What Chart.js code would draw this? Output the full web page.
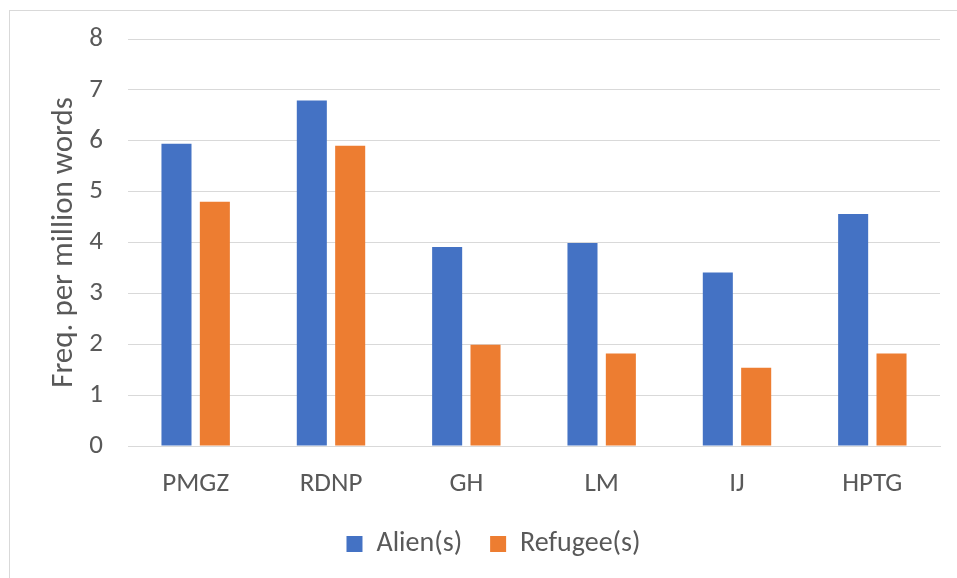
<!DOCTYPE html>
<html>
<head>
<meta charset="utf-8">
<script src="https://cdn.jsdelivr.net/npm/chart.js@4.4.0/dist/chart.umd.min.js"></script>
<style>
  html, body { margin: 0; padding: 0; background: #fff; overflow: hidden; width: 957px; height: 578px; }
  #frame { position: absolute; left: 9px; top: 10px; width: 1000px; height: 620px; border: 1px solid #d9d9d9; box-sizing: border-box; }
  #wrap { position: absolute; left: 0; top: 0; width: 957px; height: 578px; }
</style>
</head>
<body>
<div id="frame"></div>
<div id="wrap"><canvas id="c" width="957" height="578"></canvas></div>
<script>
// Corpus frequencies of the two terms
const categories = ['PMGZ', 'RDNP', 'GH', 'LM', 'IJ', 'HPTG'];
const alienValues = [5.94, 6.79, 3.91, 3.99, 3.41, 4.56];
const refugeeValues = [4.80, 5.90, 1.99, 1.82, 1.54, 1.82];
const yTicks = [0, 1, 2, 3, 4, 5, 6, 7, 8];

const FONT = 'Carlito, Lato, "Liberation Sans", sans-serif';
const TEXT = '#595959';
const GRID = '#d9d9d9';

new Chart(document.getElementById('c'), {
  type: 'bar',
  data: {
    labels: categories,
    datasets: [
      { label: 'Alien(s)', data: alienValues, backgroundColor: '#4472C4',
        categoryPercentage: 0.567, barPercentage: 0.783 },
      { label: 'Refugee(s)', data: refugeeValues, backgroundColor: '#ED7D31',
        categoryPercentage: 0.567, barPercentage: 0.783 }
    ]
  },
  options: {
    responsive: false,
    animation: false,
    devicePixelRatio: 1,
    layout: { padding: { top: 39, right: 17, bottom: 10, left: 47 } },
    plugins: {
      tooltip: { enabled: false },
      legend: {
        position: 'bottom',
        labels: {
          font: { family: FONT, size: 28 },
          color: TEXT,
          boxWidth: 16,
          boxHeight: 16,
          padding: 28
        }
      }
    },
    scales: {
      x: {
        afterFit: (axis) => { axis.height = 56; axis.paddingLeft = 0; axis.paddingRight = 0; },
        grid: { display: false, drawTicks: false },
        border: { color: GRID, width: 1 },
        ticks: { font: { family: FONT, size: 27 }, color: TEXT, padding: 22 }
      },
      y: {
        min: 0,
        max: 8,
        afterBuildTicks: (axis) => { axis.ticks = yTicks.map(v => ({ value: v })); },
        afterFit: (axis) => { axis.width = 81; axis.paddingTop = 0; axis.paddingBottom = 0; },
        grid: { color: GRID, lineWidth: 1, drawTicks: false },
        border: { display: false },
        ticks: { font: { family: FONT, size: 27 }, color: TEXT, padding: 25 },
        title: {
          display: true,
          text: 'Freq. per million words',
          font: { family: FONT, size: 31, lineHeight: 1 },
          color: TEXT,
          padding: { top: 2, bottom: 0 }
        }
      }
    }
  }
});
</script>
</body>
</html>
